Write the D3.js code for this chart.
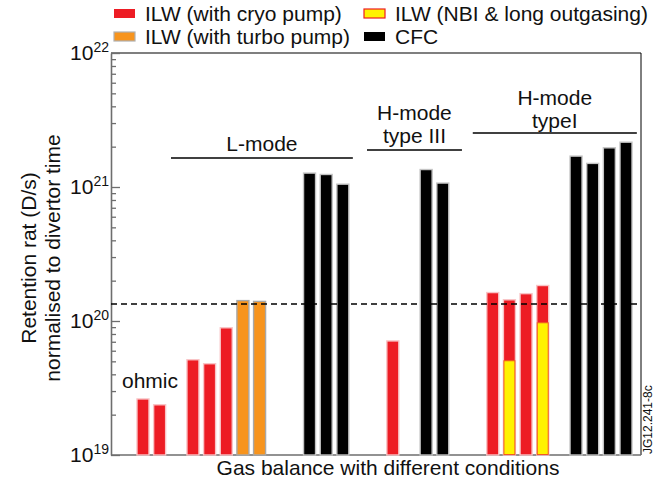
<!DOCTYPE html>
<html lang="en">
  <head>
    <meta charset="UTF-8" />
    <title>Retention rate</title>
    <script src="https://d3js.org/d3.v7.min.js"></script>
    <style>
      body {
        margin: 0;
        background: #fff;
        font-family: "Liberation Sans", Arial, sans-serif;
      }
      text {
        fill: #111;
      }
    </style>
  </head>
  <body>
    <div id="chart"></div>
    <script>
      // bar slots along the x axis (gaps are empty slots)
      const slots = [0, 1, 3, 4, 5, 6, 7, 10, 11, 12, 15, 17, 18, 21, 22, 23, 24, 26, 27, 28, 29];
      const series = ["cryo", "cryo", "cryo", "cryo", "cryo", "turbo", "turbo", "cfc", "cfc", "cfc",
        "cryo", "cfc", "cfc", "cryo", "cryo", "cryo", "cryo", "cfc", "cfc", "cfc", "cfc"];
      const retention = [2.62e19, 2.37e19, 5.14e19, 4.8e19, 8.9e19, 1.42e20, 1.4e20, 1.27e21, 1.24e21,
        1.05e21, 7.1e19, 1.35e21, 1.07e21, 1.63e20, 1.44e20, 1.6e20, 1.84e20, 1.7e21, 1.5e21, 1.96e21, 2.16e21];
      // NBI & long outgasing part, drawn inside two of the H-mode bars
      const nbiSlots = [22, 24];
      const nbiValues = [5.05e19, 9.7e19];
      const refLevel = 1.34e20;

      const decades = [1e19, 1e20, 1e21, 1e22];
      const decadeExp = [19, 20, 21, 22];
      const legendKeys = ["cryo", "nbi", "turbo", "cfc"];
      const legendLabels = ["ILW (with cryo pump)", "ILW (NBI & long outgasing)", "ILW (with turbo pump)", "CFC"];

      const fills = { cryo: "#ed1c24", turbo: "#f7941d", cfc: "#000000", nbi: "#fff200" };
      const edges = { cryo: "#f9c4c6", turbo: "#a8a8a8", cfc: "#c4c4c4", nbi: "#f15a24" };

      const width = 667, height = 486;
      const margin = { top: 53, right: 26, bottom: 31, left: 111 };

      const svg = d3.select("#chart").append("svg")
        .attr("width", width).attr("height", height);

      const x = d3.scaleLinear().domain([-1.92, 29.9])
        .range([margin.left, width - margin.right]);
      const y = d3.scaleLog().domain([1e19, 1e22])
        .range([height - margin.bottom, margin.top]);
      const barW = 12;

      // frame: top & right black, left & bottom gray
      svg.append("line").attr("x1", x.range()[0]).attr("x2", x.range()[1])
        .attr("y1", margin.top).attr("y2", margin.top).attr("stroke", "#000").attr("stroke-width", 1.2);
      svg.append("line").attr("x1", x.range()[1]).attr("x2", x.range()[1])
        .attr("y1", margin.top).attr("y2", y.range()[0]).attr("stroke", "#000").attr("stroke-width", 1);

      // minor ticks
      const minor = [];
      decades.slice(0, 3).forEach(d => { for (let k = 2; k <= 9; k++) minor.push(d * k); });
      svg.append("g").attr("transform", `translate(${margin.left},0)`)
        .call(d3.axisLeft(y).tickValues(minor).tickSizeInner(-5).tickSizeOuter(0).tickFormat(() => ""))
        .call(g => g.select(".domain").remove())
        .call(g => g.selectAll("line").attr("stroke", "#6e6e6e").attr("stroke-width", 1.3));
      // major ticks
      const yAxis = svg.append("g").attr("transform", `translate(${margin.left},0)`)
        .call(d3.axisLeft(y).tickValues(decades).tickSizeInner(-9).tickSizeOuter(0).tickFormat(() => ""));
      yAxis.select(".domain").attr("stroke", "#6e6e6e").attr("stroke-width", 1.6);
      yAxis.selectAll("line").attr("stroke", "#6e6e6e").attr("stroke-width", 1.3);

      const lbl = svg.append("g").selectAll("text").data(decades).join("text")
        .attr("x", margin.left - 2).attr("y", d => y(d) + 7)
        .attr("text-anchor", "end").attr("font-size", 21);
      lbl.append("tspan").text("10");
      lbl.append("tspan").attr("dy", -8).attr("font-size", 14).text((d, i) => decadeExp[i]);

      // bottom axis line
      svg.append("line").attr("x1", x.range()[0]).attr("x2", x.range()[1])
        .attr("y1", y.range()[0]).attr("y2", y.range()[0])
        .attr("stroke", "#6e6e6e").attr("stroke-width", 1.6);

      // bars
      const bars = slots.map((s, i) => ({ slot: s, value: retention[i], key: series[i] }));
      svg.append("g").selectAll("rect").data(bars).join("rect")
        .attr("x", d => x(d.slot) - barW / 2)
        .attr("width", barW)
        .attr("y", d => y(d.value))
        .attr("height", d => y.range()[0] - y(d.value))
        .attr("fill", d => fills[d.key])
        .attr("stroke", d => edges[d.key])
        .attr("stroke-width", 1.4);

      const nbi = nbiSlots.map((s, i) => ({ slot: s, value: nbiValues[i] }));
      svg.append("g").selectAll("rect").data(nbi).join("rect")
        .attr("x", d => x(d.slot) - barW / 2 + 0.5)
        .attr("width", barW - 1)
        .attr("y", d => y(d.value))
        .attr("height", d => y.range()[0] - y(d.value) - 0.5)
        .attr("fill", fills.nbi)
        .attr("stroke", edges.nbi)
        .attr("stroke-width", 1);

      // reference level
      svg.append("line").attr("x1", x.range()[0]).attr("x2", x.range()[1])
        .attr("y1", y(refLevel)).attr("y2", y(refLevel))
        .attr("stroke", "#000").attr("stroke-width", 1.5).attr("stroke-dasharray", "6,4");

      // group annotations
      const groups = [
        { lines: ["L-mode"], from: 1.68, to: 12.6, lineY: 158, textY: [151] },
        { lines: ["H-mode", "type III"], from: 13.45, to: 19.15, lineY: 150, textY: [120, 143] },
        { lines: ["H-mode", "typeI"], from: 19.8, to: 29.65, lineY: 133, textY: [105, 128] }
      ];
      groups.forEach(g => {
        svg.append("line").attr("x1", x(g.from)).attr("x2", x(g.to))
          .attr("y1", g.lineY).attr("y2", g.lineY).attr("stroke", "#000").attr("stroke-width", 1.3);
        g.lines.forEach((t, i) => {
          svg.append("text").attr("x", (x(g.from) + x(g.to)) / 2).attr("y", g.textY[i])
            .attr("text-anchor", "middle").attr("font-size", 21).text(t);
        });
      });
      svg.append("text").attr("x", 122).attr("y", 388).attr("font-size", 21).text("ohmic");

      // legend
      const legend = svg.append("g").selectAll("g").data(legendKeys).join("g")
        .attr("transform", (d, i) => `translate(${i % 2 ? 364 : 114},${i < 2 ? 9 : 32})`);
      legend.append("rect").attr("width", 21).attr("height", 9)
        .attr("fill", d => fills[d])
        .attr("stroke", d => d === "nbi" ? "#ed1c24" : d === "turbo" ? "#b0b0b0" : "none")
        .attr("stroke-width", 1.2);
      legend.append("text").attr("x", 31).attr("y", 12).attr("font-size", 21)
        .text((d, i) => legendLabels[i]);

      // axis titles
      svg.append("text").attr("x", 388).attr("y", 475).attr("text-anchor", "middle")
        .attr("font-size", 21).text("Gas balance with different conditions");
      svg.append("text").attr("transform", "translate(36,258) rotate(-90)")
        .attr("text-anchor", "middle").attr("font-size", 21).text("Retention rat (D/s)");
      svg.append("text").attr("transform", "translate(60,258) rotate(-90)")
        .attr("text-anchor", "middle").attr("font-size", 21).text("normalised to divertor time");
      svg.append("text").attr("transform", "translate(652,454) rotate(-90)")
        .attr("font-size", 12).text("JG12.241-8c");
    </script>
  </body>
</html>
